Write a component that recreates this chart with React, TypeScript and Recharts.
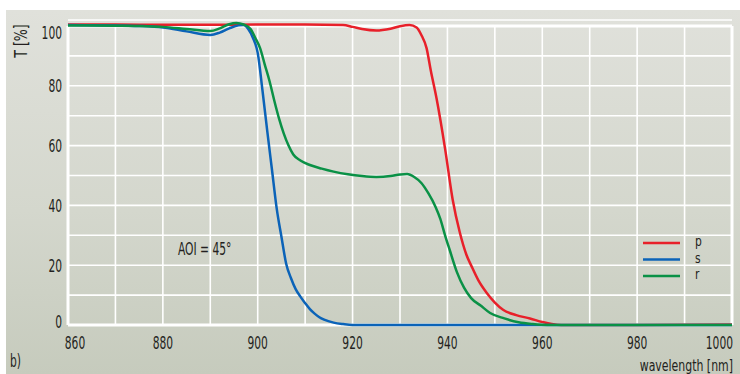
import { LineChart, Line, XAxis, YAxis, CartesianGrid, ReferenceLine, Legend } from 'recharts';

// transmission curves, wavelength [nm] vs T [%]
const pWl = [860, 870, 880, 890, 900, 910, 918, 920, 922, 925, 928, 930, 932, 933.5, 934.5, 935.6, 936.5, 937.7, 939.5, 941.1, 942.6, 944, 945.1, 946.5, 948.3, 950, 951.8, 954.5, 957.4, 960, 962, 964, 980, 1000];
const pT = [100.5, 100.5, 100.4, 100.4, 100.5, 100.5, 100.3, 99.7, 99.0, 98.5, 99.1, 99.9, 100.3, 99.5, 97, 92.6, 85, 75.8, 59, 42, 31, 23.5, 19.6, 15, 10.7, 7.5, 5, 3.3, 2.2, 1, 0.3, 0, 0, 0.2];

const sWl = [860, 870, 875, 880, 885, 890, 892, 894, 896, 897, 898, 899, 900, 901, 902, 903, 904, 905, 906, 907, 908, 909, 910, 911, 912, 913, 914, 916, 918, 920, 1000];
const sT = [100.3, 100.2, 100, 99.5, 98.2, 97, 97.8, 99.2, 100.2, 100.3, 99, 96, 91, 78.5, 65, 52, 39, 29.5, 20.5, 15.7, 12, 9.5, 7.3, 5.3, 3.8, 2.6, 1.8, 0.8, 0.3, 0, 0];

const rWl = [860, 870, 875, 880, 885, 890, 892, 894, 895.5, 897, 898.5, 899.5, 900.5, 901.5, 902.5, 903.5, 904.5, 905.5, 906.5, 907.5, 909, 911, 913.5, 916, 919, 922, 925, 928, 930, 931.5, 933, 934.5, 936, 937.5, 938.5, 939.5, 940.5, 942, 943.5, 945, 947, 949, 952, 955, 958, 961, 1000];
const rT = [100.2, 100.1, 100, 99.7, 99, 98.3, 99.2, 100.6, 101, 100.5, 99, 96, 92.6, 87, 81.5, 75, 69, 64, 60, 57, 55, 53.5, 52.3, 51.3, 50.4, 49.8, 49.5, 49.8, 50.3, 50.5, 49.5, 47.5, 44, 39.5, 35.5, 30, 25, 17.7, 12.5, 9, 6.5, 4, 2.2, 0.9, 0.3, 0, 0];

const xTicks = [860, 870, 880, 890, 900, 910, 920, 930, 940, 950, 960, 970, 980, 990, 1000];
const yTicks = [0, 10, 20, 30, 40, 50, 60, 70, 80, 90, 100];
const innerX = [870, 880, 890, 900, 910, 920, 930, 940, 950, 960, 970, 980, 990];

const zip = (wl: number[], t: number[]) => wl.map((w, i) => ({ wl: w, t: t[i] }));

const FONT = "'Liberation Sans Narrow', 'DejaVu Sans Condensed', sans-serif";
const INK = '#231f20';

const series = [
  { name: 'p', color: '#e8202a', data: zip(pWl, pT) },
  { name: 's', color: '#0b63b8', data: zip(sWl, sT) },
  { name: 'r', color: '#0a9146', data: zip(rWl, rT) },
];

// condensed look: squeeze the text horizontally
const Txt = ({ x, y, anchor = 'middle', children, size = 17.5, sx = 0.68 }: any) => (
  <g transform={`translate(${x},${y}) scale(${sx},1)`}>
    <text textAnchor={anchor} fontFamily={FONT} fontSize={size} fill={INK}>{children}</text>
  </g>
);

const XTick = ({ x, payload }: any) => {
  const v = payload.value;
  if (v % 20 !== 0) return null;
  if (v === 860) return <Txt x={x + 7} y={349}>{v}</Txt>;
  if (v === 1000) return <Txt x={733} y={349} anchor="end">{v}</Txt>;
  return <Txt x={x} y={349}>{v}</Txt>;
};

const YTick = ({ y, payload }: any) => {
  const v = payload.value;
  if (v % 20 !== 0) return null;
  const dy = v === 100 ? 7 : v === 0 ? -4 : 0;
  return <Txt x={62} y={y + dy + 6.5} anchor="end">{v}</Txt>;
};

const LegendBox = () => (
  <svg width={90} height={60}>
    {series.map((s, i) => (
      <g key={s.name}>
        <line x1={3} x2={40} y1={13 + i * 16.5} y2={13 + i * 16.5} stroke={s.color} strokeWidth={2.5} />
        <Txt x={55} y={16 + i * 16.5} anchor="start" size={14} sx={0.85}>{s.name}</Txt>
      </g>
    ))}
  </svg>
);

export default function App() {
  return (
    <div style={{ position: 'absolute', left: 0, top: 0, width: 740, height: 374, background: '#fff', overflow: 'hidden' }}>
      <div style={{
        position: 'absolute', left: 6, top: 10, width: 734, height: 364,
        background: 'linear-gradient(to bottom, #e0e1db 0%, #d4d7cd 55%, #c6cbbd 100%)',
      }} />
      <div style={{ position: 'absolute', left: 0, top: 0 }}>
        <LineChart width={740} height={374} margin={{ top: 20, right: 8, left: 0, bottom: 19 }}>
          <CartesianGrid vertical={false} stroke="#ffffff" strokeWidth={1.6} />
          {innerX.map(v => (
            <ReferenceLine key={v} segment={[{ x: v, y: 0 }, { x: v, y: 100 }]} stroke="#ffffff" strokeWidth={1.6} />
          ))}
          <ReferenceLine segment={[{ x: 860, y: 0 }, { x: 860, y: 100 }]} stroke="#ffffff" strokeWidth={3} />
          <ReferenceLine segment={[{ x: 1000, y: 0 }, { x: 1000, y: 100 }]} stroke="#ffffff" strokeWidth={3} />
          <ReferenceLine segment={[{ x: 860, y: 100 }, { x: 1000, y: 100 }]} stroke="#ffffff" strokeWidth={3} />
          <ReferenceLine segment={[{ x: 860, y: 0 }, { x: 1000, y: 0 }]} stroke="#ffffff" strokeWidth={3} />
          <XAxis dataKey="wl" type="number" domain={[860, 1000]} ticks={xTicks} interval={0}
            axisLine={false} tickLine={false} height={30} tick={<XTick />} />
          <YAxis type="number" domain={[0, 102]} ticks={yTicks} interval={0}
            axisLine={false} tickLine={false} width={68} tick={<YTick />} />
          <Legend layout="horizontal" verticalAlign="middle" align="center" content={<LegendBox />}
            wrapperStyle={{ left: 640, top: 230, width: 90, height: 60 }} />
          {series.map(s => (
            <Line key={s.name} data={s.data} dataKey="t" name={s.name} type="monotone"
              stroke={s.color} strokeWidth={2.5} dot={false} activeDot={false} isAnimationActive={false} />
          ))}
        </LineChart>
      </div>
      <svg width={740} height={374} style={{ position: 'absolute', left: 0, top: 0, pointerEvents: 'none' }}>
        <g transform="translate(27,41) rotate(-90)">
          <Txt x={0} y={0} sx={0.8}>T [%]</Txt>
        </g>
        <Txt x={178} y={255} anchor="start">AOI = 45°</Txt>
        <Txt x={733} y={371} anchor="end" size={16} sx={0.76}>wavelength [nm]</Txt>
        <Txt x={10} y={367} anchor="start">b)</Txt>
      </svg>
    </div>
  );
}
